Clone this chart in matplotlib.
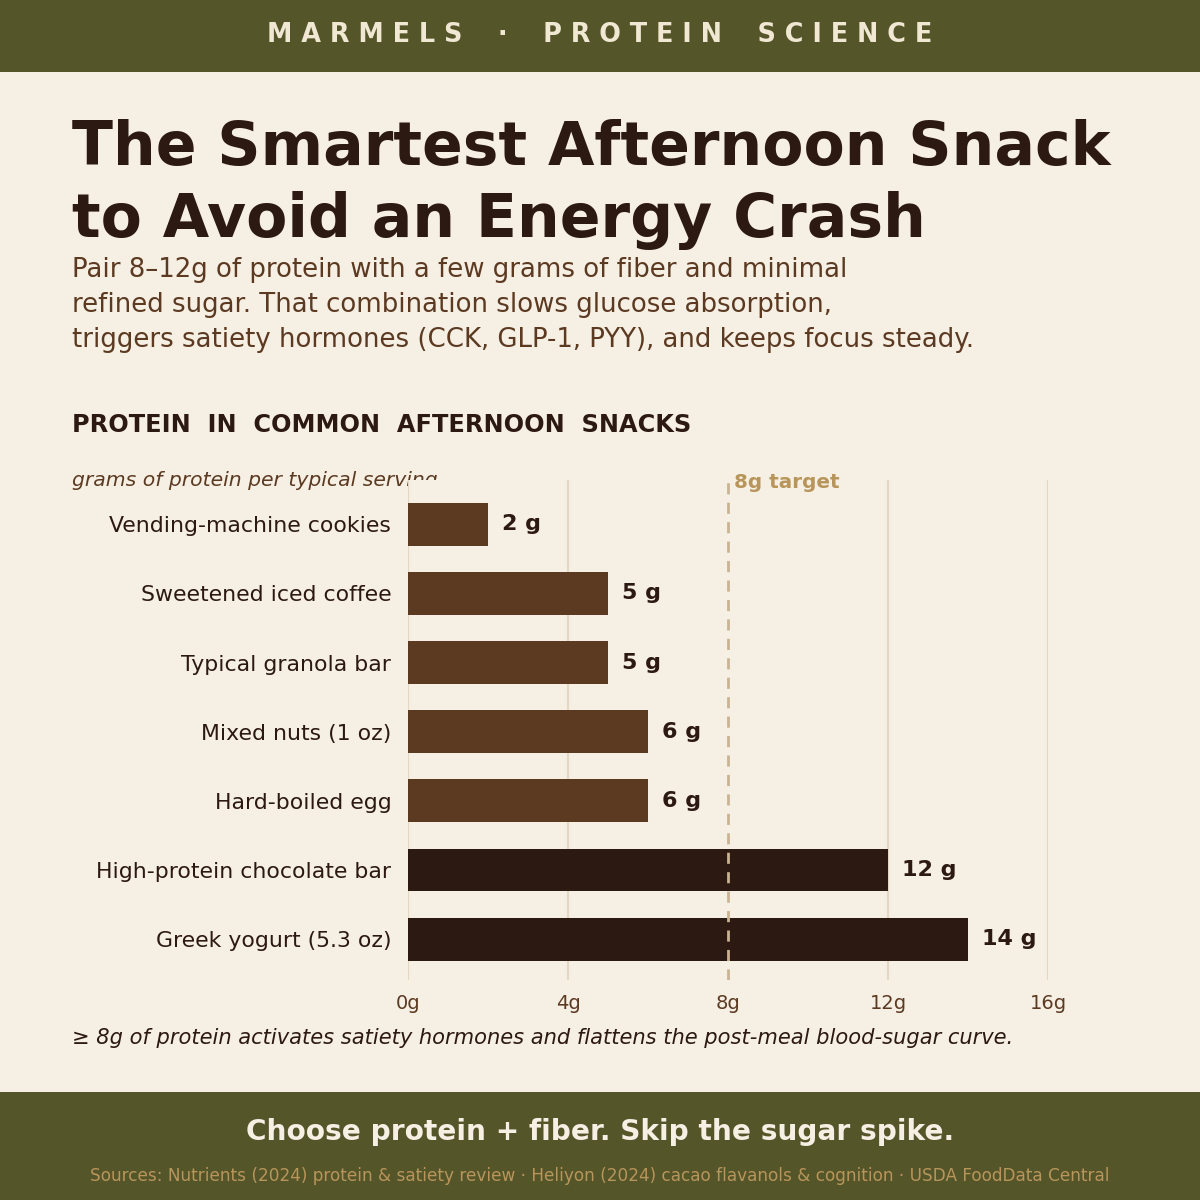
import matplotlib
matplotlib.use("Agg")
import matplotlib.pyplot as plt
from matplotlib.patches import Rectangle

# palette
BG = "#F5EFE4"
OLIVE = "#55552A"
BROWN = "#5C3A22"
DARK = "#2C1912"
GOLD = "#B8955A"
GRID = "#E3D8C4"

# data
snacks = [
    "Vending-machine cookies",
    "Sweetened iced coffee",
    "Typical granola bar",
    "Mixed nuts (1 oz)",
    "Hard-boiled egg",
    "High-protein chocolate bar",
    "Greek yogurt (5.3 oz)",
]
protein_g = [2, 5, 5, 6, 6, 12, 14]
target_g = 8
x_ticks = [0, 4, 8, 12, 16]
x_tick_labels = ["0g", "4g", "8g", "12g", "16g"]

plt.rcParams['font.family'] = ['DejaVu Sans']

fig = plt.figure(figsize=(12, 12), dpi=100)
fig.patch.set_facecolor(BG)

# header / footer bands
fig.patches.append(Rectangle((0, 1 - 72 / 1200), 1, 72 / 1200, transform=fig.transFigure,
                             facecolor=OLIVE, edgecolor="none", zorder=0))
fig.patches.append(Rectangle((0, 0), 1, 108 / 1200, transform=fig.transFigure,
                             facecolor=OLIVE, edgecolor="none", zorder=0))

fig.text(0.5, 1 - 35 / 1200, "M A R M E L S    ·    P R O T E I N    S C I E N C E",
         ha="center", va="center", fontsize=18.4, fontweight="bold", color="#F0E8D2")

# title + subtitle
fig.text(72 / 1200, 1 - 149 / 1200, "The Smartest Afternoon Snack",
         ha="left", va="center", fontsize=43.2, fontweight="bold", color=DARK)
fig.text(72 / 1200, 1 - 221 / 1200, "to Avoid an Energy Crash",
         ha="left", va="center", fontsize=43.2, fontweight="bold", color=DARK)
sub = ["Pair 8–12g of protein with a few grams of fiber and minimal",
       "refined sugar. That combination slows glucose absorption,",
       "triggers satiety hormones (CCK, GLP-1, PYY), and keeps focus steady."]
for i, line in enumerate(sub):
    fig.text(72 / 1200, 1 - (270 + 35 * i) / 1200, line,
             ha="left", va="center", fontsize=18.7, color=BROWN)

fig.text(72 / 1200, 1 - 425 / 1200, "PROTEIN  IN  COMMON  AFTERNOON  SNACKS",
         ha="left", va="center", fontsize=17.3, fontweight="bold", color=DARK)
# drawn under the axes so the axes background clips it, as in the reference
fig.text(72 / 1200, 1 - 481 / 1200, "grams of protein per typical serving",
         ha="left", va="center", fontsize=14.7, style="italic", color=BROWN, zorder=-1)

# chart
ax = fig.add_axes([408 / 1200, 1 - 980 / 1200, 640 / 1200, 500 / 1200])
ax.set_facecolor(BG)
ypos = list(range(len(snacks)))
colors = [DARK if v >= target_g else BROWN for v in protein_g]
ax.barh(ypos, protein_g, height=0.62, color=colors, zorder=3)
for y, v in zip(ypos, protein_g):
    ax.annotate(f"{v} g", (v, y), xytext=(10, 0), textcoords="offset points",
                ha="left", va="center", fontsize=16, fontweight="bold", color=DARK)

ax.set_xlim(0, 16)
ax.set_ylim(len(snacks) - 0.41, -0.64)
ax.set_xticks(x_ticks)
ax.set_xticklabels(x_tick_labels)
ax.set_yticks(ypos)
ax.set_yticklabels(snacks)
ax.tick_params(axis="x", length=0, pad=10, labelsize=14, labelcolor=BROWN)
ax.tick_params(axis="y", length=0, pad=12, labelsize=15.8, labelcolor=DARK)
for s in ax.spines.values():
    s.set_visible(False)
for t in x_ticks:
    if t != target_g:
        ax.axvline(t, color=GRID, lw=1.5, zorder=1)
ax.axvline(target_g, color="#C9B394", lw=2, ls=(0, (4, 3)), zorder=4)
ax.annotate("8g target", (target_g, 1), xycoords=("data", "axes fraction"),
            xytext=(4, -1.5), textcoords="offset points", ha="left", va="center",
            fontsize=14.4, fontweight="bold", color=GOLD)

fig.text(72 / 1200, 1 - 1038 / 1200,
         "≥ 8g of protein activates satiety hormones and flattens the post-meal blood-sugar curve.",
         ha="left", va="center", fontsize=15.1, style="italic", color=DARK)

fig.text(0.5, 1 - 1132 / 1200, "Choose protein + fiber. Skip the sugar spike.",
         ha="center", va="center", fontsize=20.2, fontweight="bold", color="#F5EFE4")
fig.text(0.5, 1 - 1176 / 1200,
         "Sources: Nutrients (2024) protein & satiety review · Heliyon (2024) cacao flavanols & cognition · USDA FoodData Central",
         ha="center", va="center", fontsize=12.15, color=GOLD)

fig.savefig("out.png", dpi=100, facecolor=BG)
